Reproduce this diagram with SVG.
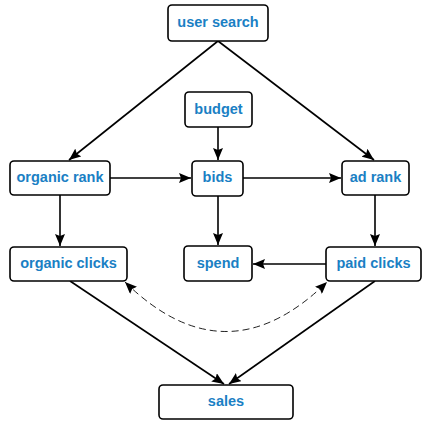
<svg xmlns="http://www.w3.org/2000/svg" width="423" height="421" viewBox="0 0 423 421">
<defs>
<marker id="ah" viewBox="0 0 12 10" refX="12" refY="5" markerWidth="12" markerHeight="10" markerUnits="userSpaceOnUse" orient="auto"><path d="M0,0 L12,5 L0,10 L2,5 Z" fill="#000"/></marker>
<marker id="ahs" viewBox="0 0 12 10" refX="0" refY="5" markerWidth="12" markerHeight="10" markerUnits="userSpaceOnUse" orient="auto"><path d="M12,0 L0,5 L12,10 L10,5 Z" fill="#000"/></marker>
<style>
.n rect{fill:#fff;stroke:#000;stroke-width:1.6}
.n text{font-family:"Liberation Sans",Arial,sans-serif;font-weight:bold;font-size:14.5px;fill:#1a80c4;text-anchor:middle}
.e{stroke:#000;stroke-width:1.6;fill:none;marker-end:url(#ah)}
.d{stroke:#222;stroke-width:1;fill:none;stroke-dasharray:7,4;marker-end:url(#ah);marker-start:url(#ahs)}
</style>
</defs>
<g id="connectors">
<line class="e" x1="218" y1="41" x2="69" y2="160"/>
<line class="e" x1="218" y1="41" x2="374" y2="160"/>
<line class="e" x1="110" y1="178" x2="191" y2="178"/>
<line class="e" x1="243" y1="178" x2="341" y2="178"/>
<line class="e" x1="218" y1="127" x2="218" y2="160"/>
<line class="e" x1="218" y1="196" x2="218" y2="245"/>
<line class="e" x1="60" y1="195" x2="60" y2="246"/>
<line class="e" x1="375" y1="195" x2="375" y2="246"/>
<line class="e" x1="326" y1="264" x2="253" y2="264"/>
<line class="e" x1="70" y1="281" x2="224" y2="384"/>
<line class="e" x1="375" y1="281" x2="229" y2="384"/>
<path class="d" d="M125,282 Q226,381 327,282"/>
</g>
<g id="user-search" class="n"><rect x="168" y="5" width="100" height="36" rx="4"/><text x="218" y="27">user search</text></g>
<g id="budget" class="n"><rect x="185" y="92" width="67" height="35" rx="4"/><text x="218.5" y="113.5">budget</text></g>
<g id="organic-rank" class="n"><rect x="10" y="161" width="100" height="34" rx="4"/><text x="60" y="182">organic rank</text></g>
<g id="bids" class="n"><rect x="192" y="161" width="51" height="35" rx="4"/><text x="217.5" y="182">bids</text></g>
<g id="ad-rank" class="n"><rect x="342" y="161" width="67" height="34" rx="4"/><text x="375.5" y="182">ad rank</text></g>
<g id="organic-clicks" class="n"><rect x="10" y="247" width="117" height="34" rx="4"/><text x="68.5" y="268">organic clicks</text></g>
<g id="spend" class="n"><rect x="184" y="246" width="68" height="35" rx="4"/><text x="218" y="267.5">spend</text></g>
<g id="paid-clicks" class="n"><rect x="326" y="247" width="95" height="34" rx="4"/><text x="373.5" y="268">paid clicks</text></g>
<g id="sales" class="n"><rect x="159" y="385" width="134" height="34" rx="4"/><text x="226" y="406">sales</text></g>
</svg>
